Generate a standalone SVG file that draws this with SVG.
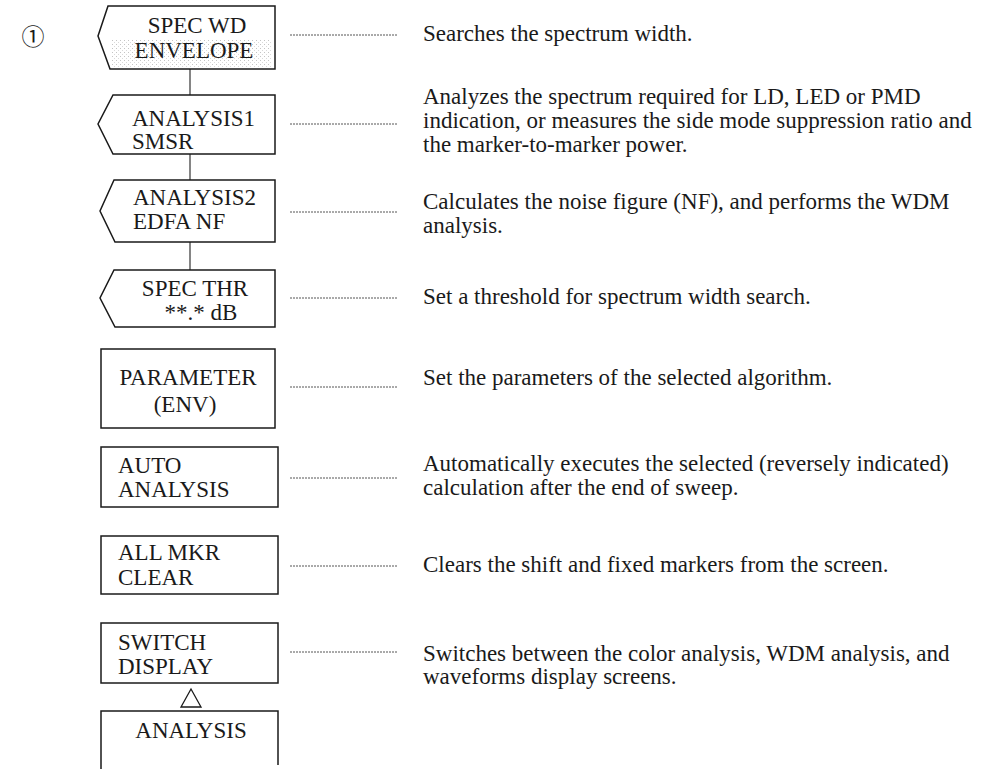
<svg xmlns="http://www.w3.org/2000/svg" width="1006" height="769" viewBox="0 0 1006 769">
<defs>
<pattern id="stip" width="4" height="4" patternUnits="userSpaceOnUse">
<rect x="0" y="0" width="1" height="1" fill="#c4c4c4"/>
<rect x="2" y="2" width="1" height="1" fill="#dadada"/>
</pattern>
</defs>
<style>
.box{fill:#fff;stroke:#1a1a1a;stroke-width:1.5}
.k{font-family:"Liberation Serif","Times New Roman",serif;font-size:23px;fill:#1a1a1a}
.d{font-family:"Liberation Serif","Times New Roman",serif;font-size:23px;fill:#1a1a1a}
.c{text-anchor:middle}
.ld{stroke:#555;stroke-width:1;stroke-dasharray:2 1;fill:none}
.ln{stroke:#333;stroke-width:1.2;fill:none}
</style>
<text x="33" y="45" class="k c" style="font-family:'Noto Sans CJK JP',sans-serif;font-size:23px">①</text>

<g id="connectors">
<line class="ln" x1="190" y1="69" x2="190" y2="95"/>
<line class="ln" x1="190" y1="154" x2="190" y2="180"/>
<line class="ln" x1="190" y1="242" x2="190" y2="270"/>
<line class="ld" x1="290" y1="35" x2="398" y2="35"/>
<line class="ld" x1="290" y1="124" x2="398" y2="124"/>
<line class="ld" x1="290" y1="212" x2="398" y2="212"/>
<line class="ld" x1="290" y1="298" x2="398" y2="298"/>
<line class="ld" x1="290" y1="387" x2="398" y2="387"/>
<line class="ld" x1="290" y1="478" x2="398" y2="478"/>
<line class="ld" x1="290" y1="566" x2="398" y2="566"/>
<line class="ld" x1="290" y1="652" x2="398" y2="652"/>
</g>

<g id="n-specwd">
<polygon class="box" points="108,6 275,6 275,69 110,69 98,36"/>
<rect x="112" y="40" width="160" height="27" fill="url(#stip)"/>
<text x="197" y="33" class="k c">SPEC WD</text>
<text x="194" y="58" class="k c">ENVELOPE</text>
</g>
<g id="n-analysis1">
<polygon class="box" points="113,95 275,95 275,154 113,154 98,124"/>
<text x="132" y="126" class="k">ANALYSIS1</text>
<text x="132" y="149" class="k">SMSR</text>
</g>
<g id="n-analysis2">
<polygon class="box" points="114,180 275,180 275,242 115,242 100,211"/>
<text x="133" y="205" class="k">ANALYSIS2</text>
<text x="133" y="229" class="k">EDFA NF</text>
</g>
<g id="n-specthr">
<polygon class="box" points="114,270 275,270 275,327 115,327 100,298"/>
<text x="195" y="296" class="k c">SPEC THR</text>
<text x="201" y="320" class="k c">**.* dB</text>
</g>
<g id="n-parameter">
<rect class="box" x="101" y="349" width="174" height="79"/>
<text x="188" y="385" class="k c">PARAMETER</text>
<text x="185" y="412" class="k c">(ENV)</text>
</g>
<g id="n-auto">
<rect class="box" x="101" y="447" width="177" height="60"/>
<text x="118" y="473" class="k">AUTO</text>
<text x="118" y="497" class="k">ANALYSIS</text>
</g>
<g id="n-allmkr">
<rect class="box" x="101" y="536" width="177" height="58"/>
<text x="118" y="560" class="k">ALL MKR</text>
<text x="118" y="585" class="k">CLEAR</text>
</g>
<g id="n-switch">
<rect class="box" x="101" y="623" width="177" height="60"/>
<text x="118" y="650" class="k">SWITCH</text>
<text x="118" y="674" class="k">DISPLAY</text>
</g>
<g id="n-triangle">
<polygon points="191,689 181,707 201,707" fill="none" stroke="#1a1a1a" stroke-width="1.3"/>
</g>
<g id="n-analysis">
<path class="box" d="M101,769 V711 H278 V765" fill="none"/>
<text x="191" y="738" class="k c">ANALYSIS</text>
</g>

<g id="descriptions">
<text x="423" y="41" class="d">Searches the spectrum width.</text>
<text x="423" y="104" class="d">Analyzes the spectrum required for LD, LED or PMD</text>
<text x="423" y="128" class="d">indication, or measures the side mode suppression ratio and</text>
<text x="423" y="152" class="d">the marker-to-marker power.</text>
<text x="423" y="209" class="d">Calculates the noise figure (NF), and performs the WDM</text>
<text x="423" y="233" class="d">analysis.</text>
<text x="423" y="304" class="d">Set a threshold for spectrum width search.</text>
<text x="423" y="385" class="d">Set the parameters of the selected algorithm.</text>
<text x="423" y="471" class="d">Automatically executes the selected (reversely indicated)</text>
<text x="423" y="495" class="d">calculation after the end of sweep.</text>
<text x="423" y="572" class="d">Clears the shift and fixed markers from the screen.</text>
<text x="423" y="661" class="d">Switches between the color analysis, WDM analysis, and</text>
<text x="423" y="684" class="d">waveforms display screens.</text>
</g>
</svg>
